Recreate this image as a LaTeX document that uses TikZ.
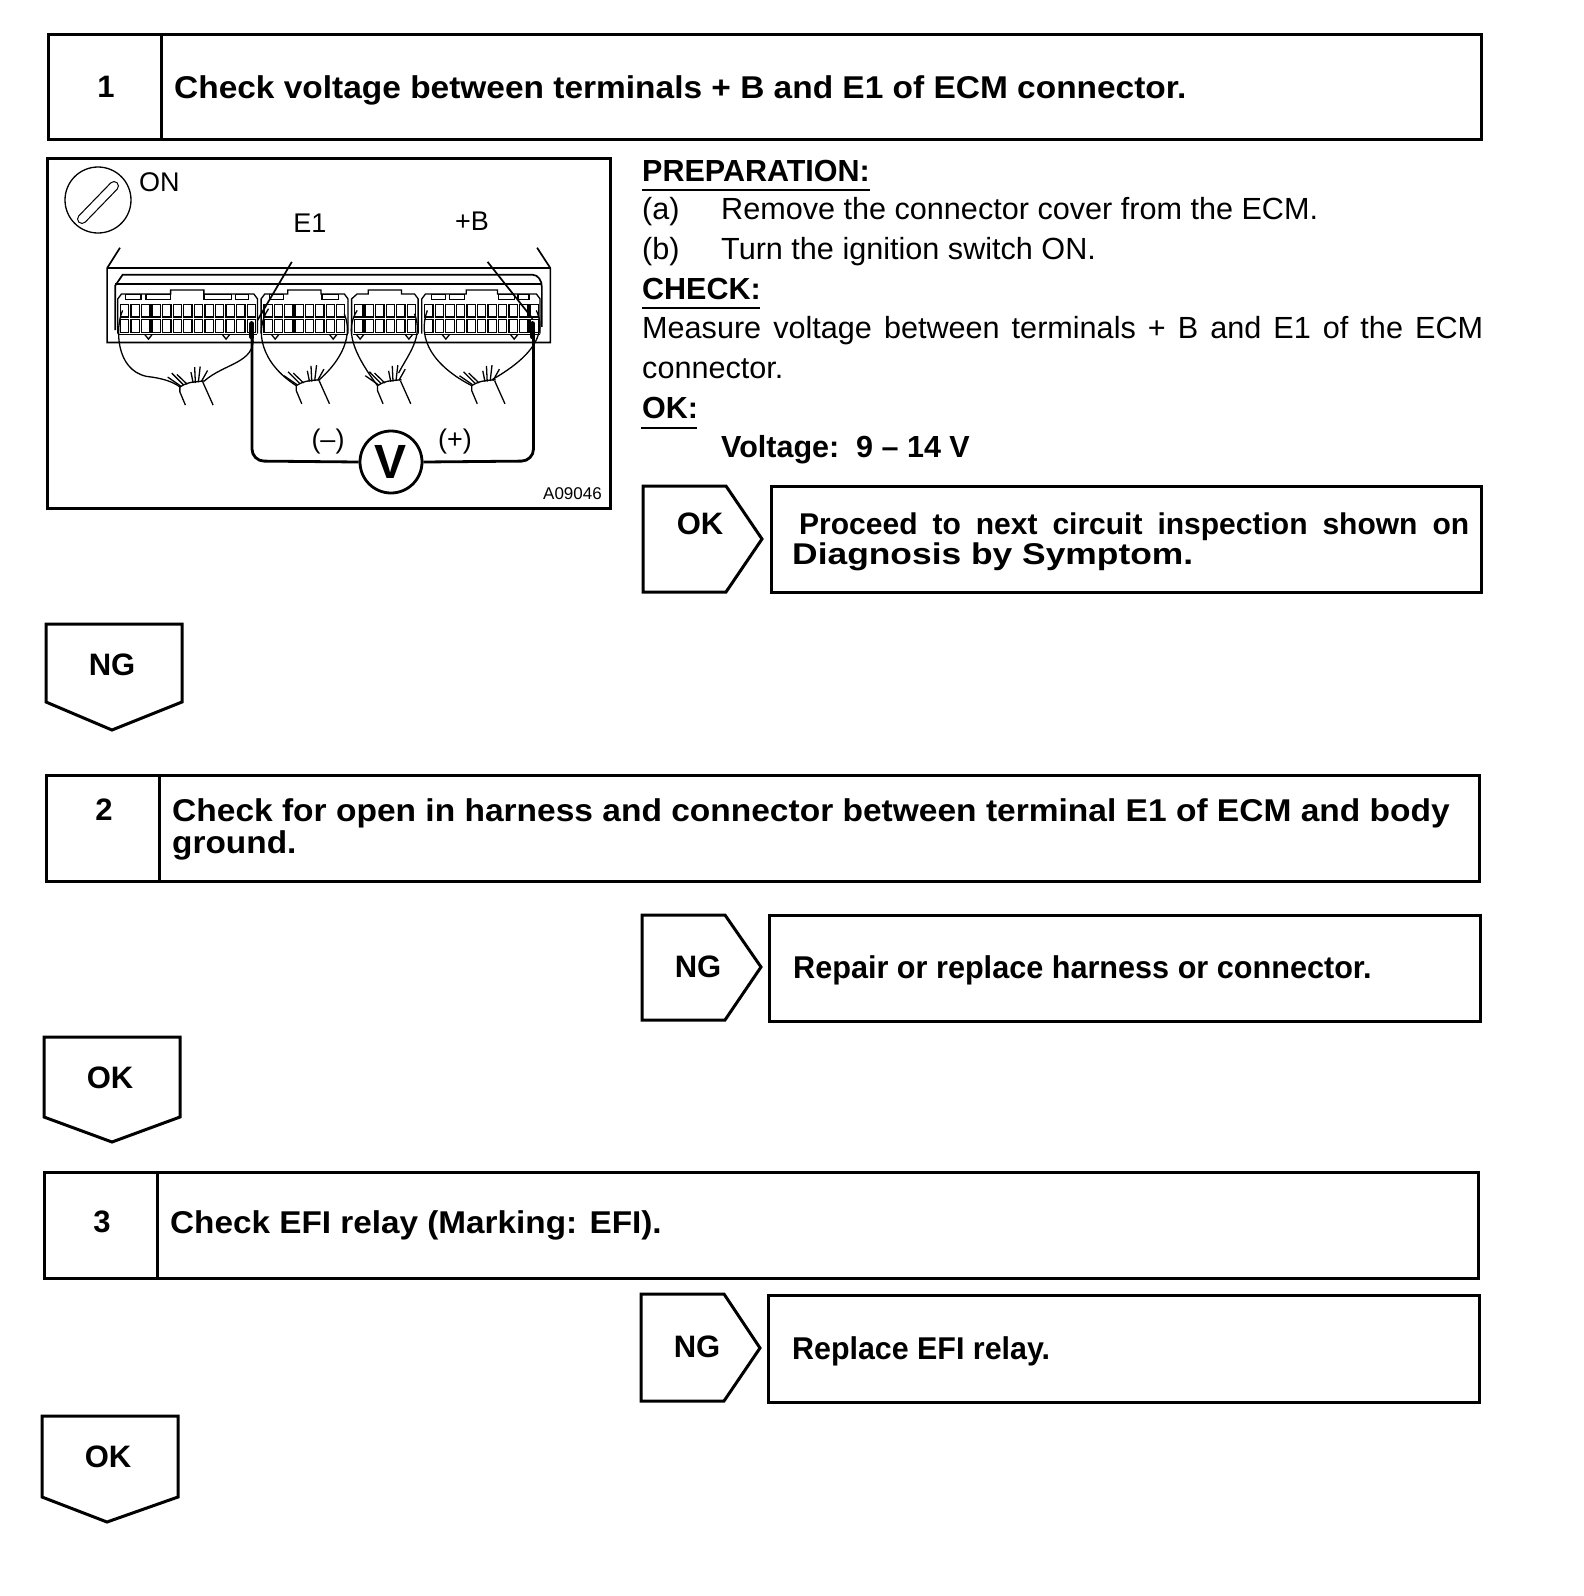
\documentclass[tikz,border=0pt]{standalone}
\usepackage{fontspec}
\setmainfont{Liberation Sans}
\newcommand{\fsz}[1]{\fontsize{#1}{#1}\selectfont}
\newcommand{\cellrow}[3]{%
  \foreach \ci in {1,...,#3}{%
    \pgfmathsetmacro{\cx}{#1+(\ci-1)*#2}%
    \draw[fine] (\cx,462) rectangle ++(#2-6,38);
    \draw[fine] (\cx,508) rectangle ++(#2-6,38);
  }}
\newcommand{\fan}[2]{%
  \begin{scope}[shift={(#1,#2)}]
  \draw[fine] (0,0) .. controls (25,-18) and (45,-15) .. (65,-18);
  \foreach \dx/\dy/\ex/\ey in {2/-3/-33/-30,10/-6/-22/-42,20/-8/-8/-38,36/-12/30/-45,42/-12/40/-60,50/-14/55/-62,58/-16/75/-50}{
    \draw[fine] (\dx,\dy) -- (\ex,\ey);
  }
  \draw[fine] (0,0) -- (0,15) -- (15,55);
  \draw[fine] (62,-15) -- (90,55);
  \end{scope}}
\tikzset{
  frame/.style={draw=black,line width=3pt,fill=white},
  fine/.style={draw=black,line width=1.3pt},
  mid/.style={draw=black,line width=1.7pt},
  probe/.style={draw=black,line width=2.8pt,rounded corners=12pt},
  bold/.style={inner sep=0pt,anchor=base west,font=\bfseries\fsz{31.5}},
  badge/.style={inner sep=0pt,font=\bfseries\fsz{31}},
  reg/.style={inner sep=0pt,anchor=base west,font=\fsz{30.6}},
  head/.style={inner sep=0pt,anchor=base west,font=\bfseries\fsz{30.5}},
  lab/.style={inner sep=0pt,font=\fsz{27}},
}
\begin{document}
\begin{tikzpicture}[x=1pt,y=-1pt]
\useasboundingbox[fill=white] (0,0) rectangle (1584,1596);

% step boxes
\draw[frame] (48,34) rectangle (1481,139);
\draw[frame] (161,34) -- (161,139);
\node[badge] (n1) at (106,87) {1};
\node[bold] (t1) at (174,98) {\scalebox{1.062}[1]{Check voltage between terminals + B and E1 of ECM connector.}};

\draw[frame] (46,775) rectangle (1479,881);
\draw[frame] (159,775) -- (159,881);
\node[badge] (n2) at (104,810) {2};
\node[bold] (t2a) at (172,821) {\scalebox{1.064}[1]{Check for open in harness and connector between terminal E1 of ECM and body}};
\node[bold] (t2b) at (172,853) {\scalebox{1.06}[1]{ground.}};

\draw[frame] (44,1172) rectangle (1478,1278);
\draw[frame] (157,1172) -- (157,1278);
\node[badge] (n3) at (102,1222) {3};
\node[bold] (t3) at (170,1233) {\scalebox{1.057}[1]{Check EFI relay (Marking: EFI).}};

% down badges
\draw[frame] (46,624) -- (182,624) -- (182,702) -- (112,730) -- (46,702) -- cycle;
\node[badge] (ng1) at (112,665) {NG};
\draw[frame] (44,1037) -- (180,1037) -- (180,1117) -- (112,1142) -- (44,1117) -- cycle;
\node[badge] (ok2) at (110,1078) {OK};
\draw[frame] (42,1416) -- (178,1416) -- (178,1497) -- (107,1522) -- (42,1497) -- cycle;
\node[badge] (ok3) at (108,1457) {OK};

% right badges and result boxes
\draw[frame] (643,486) -- (726,486) -- (762,539) -- (726,592) -- (643,592) -- cycle;
\node[badge] (ok1) at (700,524) {OK};
\draw[frame] (771,486) rectangle (1481,592);
\node[bold,font=\bfseries\fsz{30}] (r1a) at (799,534) {\makebox[670pt][s]{Proceed to next circuit inspection shown on}};
\node[bold,font=\bfseries\fsz{30}] (r1b) at (792,564) {\resizebox{401pt}{\height}{Diagnosis by Symptom.}};

\draw[frame] (642,915) -- (725,915) -- (761,967) -- (725,1020) -- (642,1020) -- cycle;
\node[badge] (ng2) at (698,967) {NG};
\draw[frame] (769,915) rectangle (1480,1021);
\node[bold] (r2) at (793,978) {\scalebox{.972}[1]{Repair or replace harness or connector.}};

\draw[frame] (641,1294) -- (724,1294) -- (760,1348) -- (724,1401) -- (641,1401) -- cycle;
\node[badge] (ng3) at (697,1347) {NG};
\draw[frame] (768,1295) rectangle (1479,1402);
\node[bold] (r3) at (792,1359) {\scalebox{.965}[1]{Replace EFI relay.}};

% right column text
\node[head] (h1) at (642,181) {PREPARATION:};
\draw[mid] (642,190) -- (870,190);
\node[reg] (a0) at (642,219) {(a)};
\node[reg] (a1) at (721,219) {Remove the connector cover from the ECM.};
\node[reg] (b0) at (642,259) {(b)};
\node[reg] (b1) at (721,259) {Turn the ignition switch ON.};
\node[head] (h2) at (642,299) {CHECK:};
\draw[mid] (642,308) -- (760,308);
\node[reg] (m1) at (642,338) {\makebox[841pt][s]{Measure voltage between terminals + B and E1 of the ECM}};
\node[reg] (m2) at (642,378) {connector.};
\node[head] (h3) at (642,418) {OK:};
\draw[mid] (641,428) -- (697,428);
\node[head] (v1) at (721,457) {Voltage:\ \ 9 -- 14 V};

% figure
\draw[frame] (47,158) rectangle (610,508);
\draw[line width=1.3pt] (98,200) circle (33);
\draw[line width=10pt,line cap=round] (82,219) -- (114,186);
\draw[white,line width=7.6pt,line cap=round] (82,219) -- (114,186);
\node[lab,anchor=west] (on) at (139,182) {ON};
\node[lab] (e1) at (310,223) {E1};
\node[lab] (pb) at (472,221) {+B};
\node[lab] (neg) at (328,442) {(--)};
\node[lab] (pos) at (455,442) {(+)};
\node[inner sep=0pt,anchor=east,font=\fsz{17}] (code) at (602,494) {A09046};

\begin{scope}[shift={(39.5,152)},x=0.3694pt,y=-0.330pt]
  \draw[mid] (218,290) -- (183,352) -- (183,577) -- (1383,577) -- (1383,352) -- (1347,290);
  \draw[mid] (183,352) -- (1383,352);
  \draw[mid] (205,540) -- (205,405) -- (225,372) -- (1335,372) .. controls (1350,372) and (1360,390) .. (1360,410) -- (1360,530);
  \draw[mid] (205,400) -- (1360,400);
  % module outlines
  \draw[fine] (212,550) -- (212,445) -- (222,430) -- (355,430) -- (355,418) -- (445,418) -- (445,430) -- (580,430) -- (590,445) -- (590,550);
  \draw[fine] (600,550) -- (600,445) -- (610,430) -- (672,430) -- (672,418) -- (762,418) -- (762,430) -- (825,430) -- (835,445) -- (835,550);
  \draw[fine] (845,550) -- (845,445) -- (860,430) -- (890,430) -- (890,418) -- (980,418) -- (980,430) -- (1015,430) -- (1025,445) -- (1025,550);
  \draw[fine] (1035,550) -- (1035,445) -- (1045,430) -- (1155,430) -- (1155,418) -- (1240,418) -- (1240,430) -- (1345,430) -- (1355,445) -- (1355,550);
  \foreach \a/\b in {232/275,288/355,445/520,530/565,622/660,765/810,1062/1100,1110/1150,1242/1285,1295/1325}{
    \draw[fine] (\a,432) rectangle (\b,447);
  }
  \cellrow{219}{28.6}{13}
  \cellrow{608}{28}{8}
  \cellrow{853}{28.5}{6}
  \cellrow{1043}{28.5}{11}
  % lower rails and notches
  \foreach \a/\b in {215/590,605/835,850/1025,1040/1355}{
    \draw[fine] (\a,553) -- (\b,553);
  }
  \foreach \n in {295,505,638,795,868,1000,1100,1285}{
    \draw[fine] (\n-10,553) -- (\n,567) -- (\n+10,553);
  }
  % harness
  \draw[fine] (225,480) .. controls (205,530) and (205,660) .. (290,680) .. controls (330,685) and (360,695) .. (380,712);
  \draw[fine] (578,560) .. controls (585,640) and (500,640) .. (445,695);
  \fan{380}{712}
  \draw[fine] (620,475) .. controls (580,540) and (600,640) .. (695,708);
  \draw[fine] (825,490) .. controls (855,570) and (800,650) .. (755,692);
  \fan{695}{708}
  \draw[fine] (860,480) .. controls (825,540) and (850,610) .. (915,708);
  \draw[fine] (1015,490) .. controls (1040,560) and (1000,610) .. (972,670);
  \fan{915}{708}
  \draw[fine] (1050,480) .. controls (1020,570) and (1070,650) .. (1170,708);
  \draw[fine] (1345,480) .. controls (1370,540) and (1350,610) .. (1225,690);
  \fan{1170}{708}
  % leaders
  \draw[mid] (683,333) -- (590,510);
  \draw[mid] (1213,333) -- (1335,505);
  % probes
  \draw[line width=5pt,line cap=round] (575,520) -- (575,560);
  \draw[line width=5pt,line cap=round] (1335,520) -- (1335,560);
\end{scope}

% meter
\coordinate (pl) at (252,330);
\coordinate (pr) at (533.5,330);
\node[draw,circle,line width=2.8pt,minimum size=62pt,inner sep=0pt,font=\bfseries\fsz{48}] (vm) at (391,462) {V};
\draw[probe] (pl) -- (252,461) -- (vm.west);
\draw[probe] (pr) -- (533.5,461) -- (vm.east);
\end{tikzpicture}
\end{document}
